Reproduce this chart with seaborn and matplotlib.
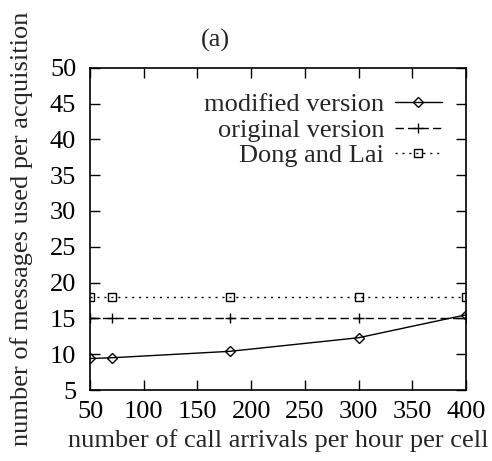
import numpy as np
import pandas as pd
import seaborn as sns
import matplotlib
matplotlib.use('Agg')
import matplotlib.pyplot as plt

sns.set_theme(style='ticks')
plt.rcParams['font.family'] = ['Liberation Serif', 'DejaVu Serif']

# data
arrivals = [50, 70, 180, 300, 400]
modified = [9.4, 9.5, 10.4, 12.3, 15.5]
original = [15, 15, 15, 15, 15]
dong_lai = [18, 18, 18, 18, 18]
series_names = ['modified version', 'original version', 'Dong and Lai']

df = pd.DataFrame({
    'x': arrivals * 3,
    'y': modified + original + dong_lai,
    'series': [series_names[0]] * 5 + [series_names[1]] * 5 + [series_names[2]] * 5,
})

fig = plt.figure(figsize=(4.92, 4.61), dpi=100)
ax = fig.add_axes([0.183, 0.154, 0.764, 0.699])

styles = {
    'modified version': dict(ls='-', marker='D', ms=5),
    'original version': dict(ls=(0, (6, 3)), marker='+', ms=7),
    'Dong and Lai': dict(ls=(0, (1.5, 3.5)), marker='s', ms=6),
}
for name in series_names:
    sub = df[df['series'] == name]
    st = styles[name]
    sns.lineplot(data=sub, x='x', y='y', ax=ax, color='black', lw=1,
                 linestyle=st['ls'], marker=st['marker'], markersize=st['ms'],
                 markerfacecolor='none', markeredgecolor='black', markeredgewidth=1,
                 label=name)

ax.set_xlim(50, 400)
ax.set_ylim(5, 50)
ax.set_xticks(np.arange(50, 401, 50))
ax.set_yticks(np.arange(5, 51, 5))
ax.tick_params(direction='in', top=True, right=True, length=7, width=1,
               labelsize=19, colors='black', pad=8)
ax.tick_params(axis='y', pad=10)
for s in ax.spines.values():
    s.set_linewidth(1.2)
    s.set_color('black')

ax.set_xlabel('number of call arrivals per hour per cell', fontsize=19, labelpad=4)
ax.set_ylabel('number of messages used per acquisition', fontsize=19, labelpad=12)

leg = ax.legend(loc='upper right', bbox_to_anchor=(0.965, 0.955), frameon=False,
                markerfirst=False, fontsize=19, handlelength=1.8,
                handletextpad=0.4, labelspacing=0.08, borderaxespad=0.0)

fig.text(0.437, 0.913, '(a)', fontsize=19, ha='center', va='center')

fig.savefig('out.png', dpi=100)
